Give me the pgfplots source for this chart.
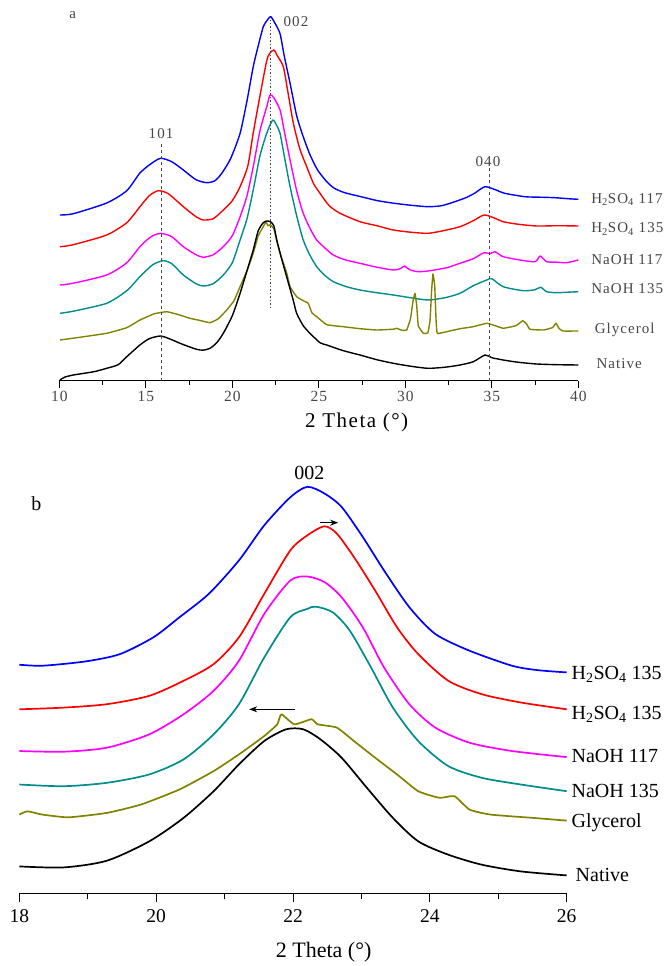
\documentclass[border=0pt]{standalone}
\usepackage{fontspec}
\setmainfont{Liberation Serif}
\newfontfamily\afont[LetterSpace=7]{Liberation Serif}
\usepackage{pgfplots}
\pgfplotsset{compat=1.18}
\usetikzlibrary{arrows.meta}
\definecolor{cblue}{RGB}{0,0,255}
\definecolor{cred}{RGB}{255,0,0}
\definecolor{cmag}{RGB}{255,0,255}
\definecolor{cteal}{RGB}{0,140,140}
\definecolor{colive}{RGB}{130,130,0}
\definecolor{agray}{RGB}{70,70,70}
\begin{document}
\begin{tikzpicture}
\path[use as bounding box] (0pt,0pt) rectangle (671pt,-966pt);
% ---------------- panel a ----------------
\begin{axis}[at={(59.3pt,-380.7pt)}, anchor=south west, scale only axis,
  width=519pt, height=370pt, xmin=10, xmax=40, ymin=0, ymax=370,
  axis x line*=bottom, axis y line=none, clip=false,
  xtick={10,15,...,40}, minor x tick num=1, tick align=outside,
  major tick length=7pt, minor tick length=4pt,
  axis line style={line width=0.8pt,black}, tick style={line width=0.8pt,black},
  /pgf/number format/assume math mode=true,
  xticklabel style={font=\afont\fontsize{15.5}{16}\selectfont, text=agray},
  xlabel={2 Theta (°)},
  xlabel style={font=\afont\fontsize{21}{22}\selectfont, at={(axis description cs:0.573,0)}, anchor=center, yshift=-42pt},
  every axis plot/.append style={line width=1.4pt, line join=round}]
\addplot[cblue, smooth, tension=0.4] coordinates {(10.04,165.7)(10.81,167)(12.74,177.7)(13.9,190)(14.66,207.7)(15.3,217)(15.86,222.4)(16.5,219)(17.17,210.7)(17.9,201)(18.52,198)(19.0,200)(19.39,207.4)(19.9,222)(20.45,247.4)(20.85,280)(21.21,314)(21.5,335)(21.79,354)(22.0,360)(22.22,364)(22.45,358)(22.76,347)(23.0,325)(23.34,297.4)(23.72,265)(24.1,244)(24.49,226)(24.93,210.7)(25.46,199)(25.9,192.4)(26.5,188)(27.44,184)(28.4,180)(29.37,177.4)(30.3,175.5)(31.31,174)(32.1,175)(32.86,179)(33.5,183)(34.0,187.4)(34.6,194)(35.2,191)(35.75,187.4)(36.91,184)(37.8,183.5)(38.65,183)(39.4,182)(40.0,181.4)};
\addplot[cred, smooth, tension=0.4] coordinates {(10.04,134)(10.81,136)(12.74,145.7)(13.9,158)(14.66,174)(15.2,185)(15.72,190)(16.3,187)(17.17,174)(17.9,164)(18.32,160.7)(18.9,162)(19.48,170.7)(20.0,180)(20.45,194)(20.9,215)(21.21,247.7)(21.6,285)(21.99,320)(22.18,327.7)(22.41,330.7)(22.6,325)(22.95,314)(23.2,290)(23.53,257.4)(23.9,232)(24.3,214)(24.7,197)(25.07,187.4)(25.6,175)(26.23,167.4)(27.38,159)(28.35,155)(29.31,150.7)(30.3,148.5)(31.31,147.4)(32.2,150)(33.16,154)(33.93,160)(34.55,165.7)(35.1,163)(35.66,159)(36.5,156.5)(37.6,154.7)(38.8,155)(40.0,154.7)};
\addplot[cmag, smooth, tension=0.4] coordinates {(10.04,95.7)(10.81,97.5)(12.74,105.7)(13.9,118)(14.66,134)(15.3,144)(15.86,147.4)(16.5,144)(17.17,134)(17.9,126)(18.32,123.4)(18.9,126)(19.48,134)(20.0,145)(20.45,164)(20.85,185)(21.21,214)(21.6,250)(21.99,274)(22.18,285.7)(22.4,283)(22.76,270.7)(23.0,250)(23.34,220.7)(23.72,190)(24.1,167.4)(24.5,152)(24.88,140.7)(25.4,132)(25.84,125.7)(26.5,121)(27.38,117.4)(28.35,113.5)(29.31,110.7)(29.7,112)(29.95,114.7)(30.25,111)(30.75,109)(31.43,110)(32.4,113)(33.16,117.4)(33.93,122)(34.55,128)(34.9,127)(35.18,129)(35.66,124)(36.63,120.7)(37.5,119)(37.8,124.7)(38.17,119)(38.8,118.5)(39.33,118)(40.0,120.7)};
\addplot[cteal, smooth, tension=0.4] coordinates {(10.04,67.4)(10.81,69.5)(12.74,77.4)(13.9,90)(14.66,104)(15.4,116)(16.01,120)(16.5,117)(17.17,105.7)(17.9,97)(18.32,94.7)(18.9,97)(19.48,105.7)(20.0,118)(20.45,140.7)(20.85,162)(21.21,190.7)(21.6,225)(21.99,247.4)(22.34,260.7)(22.57,255)(22.76,247.4)(23.0,225)(23.34,194)(23.72,165)(24.1,140.7)(24.5,125)(24.88,114)(25.3,106)(25.84,99)(26.6,94)(27.38,90.7)(28.35,88)(29.31,85.7)(30.3,83)(31.31,80.7)(32.3,83)(33.16,87.4)(33.93,95)(34.71,100.7)(35.0,102)(35.66,94)(36.82,90)(37.5,91)(37.83,93.4)(38.17,89)(38.75,88)(39.4,88.5)(40.0,89)};
\addplot[colive, smooth, tension=0.2] coordinates {(10.04,40.7)(10.81,42.5)(12.74,47.4)(13.9,53)(14.66,60.7)(15.5,67)(16.21,69)(16.9,66)(17.55,62.4)(18.2,60)(18.71,58)(19.2,62)(19.68,70.7)(20.1,80)(20.45,94)(20.85,110)(21.21,127.4)(21.5,145)(21.79,154)(21.95,159)(22.05,155)(22.2,156)(22.4,152)(22.57,140)(22.76,127.4)(23.14,108)(23.34,94)(23.72,84)(24.1,80)(24.39,77.4)(24.6,68)(24.88,64)(25.46,56)(26.42,54)(27.38,52)(28.35,50.7)(29.31,51.5)(29.5,52.4)(29.8,50.5)(30.08,50.7)(30.3,62)(30.45,80)(30.56,87.4)(30.66,75)(30.75,55)(31.04,47.4)(31.3,47.8)(31.43,60)(31.52,90)(31.6,106.7)(31.7,95)(31.78,60)(31.85,47.4)(32.39,49)(33.16,52)(33.93,54)(34.71,57.4)(35.2,55)(35.66,52.4)(36.4,55)(36.79,60)(37.0,57)(37.21,51.4)(37.98,50.7)(38.5,53)(38.71,57.4)(38.9,52)(39.13,49.7)(40.0,49.7)};
\addplot[black, smooth, tension=0.4] coordinates {(10.04,0.7)(10.3,3.5)(10.81,5.7)(12.0,9)(12.74,12.4)(13.4,16)(13.9,24)(14.66,35.7)(15.2,42)(15.86,44.7)(16.5,41)(16.98,37.4)(17.5,34)(17.94,31.4)(18.3,30.5)(18.71,32.4)(19.1,38)(19.48,47.4)(20.0,65)(20.45,87.4)(20.85,110)(21.21,130.7)(21.5,150)(21.79,158)(21.99,159.7)(22.2,159)(22.4,155)(22.57,140.7)(22.85,122)(23.14,104)(23.53,80)(23.72,67.4)(24.1,55)(24.49,47.4)(25.07,38)(25.46,35.7)(26.42,30)(27.38,25.7)(28.35,21)(29.31,17.4)(30.3,14.5)(31.31,12.4)(32.3,13.5)(33.16,15.7)(33.93,19)(34.61,25.7)(35.0,23)(35.66,20.7)(36.5,18.5)(37.6,16.7)(38.8,16)(40.0,15.7)};
% reference lines
\addplot[agray, line width=1pt, dash pattern=on 3pt off 3pt] coordinates {(15.88,0)(15.88,237.7)};
\addplot[agray, line width=1pt, dash pattern=on 1.5pt off 2pt] coordinates {(22.22,72.7)(22.22,360.7)};
\addplot[agray, line width=1pt, dash pattern=on 3pt off 3pt] coordinates {(34.85,0)(34.85,212.7)};
\begin{scope}[every node/.style={font=\afont\fontsize{15}{16}\selectfont, text=agray}]
\node at (axis cs:10.78,365.7) {a};
\node at (axis cs:15.88,246.7) {101};
\node at (axis cs:23.68,359) {002};
\node at (axis cs:34.78,218.7) {040};
\node[anchor=west] at (axis cs:40.55,181.4) {H\textsubscript{2}SO\textsubscript{4} 117};
\node[anchor=west] at (axis cs:40.55,151.7) {H\textsubscript{2}SO\textsubscript{4} 135};
\node[anchor=west] at (axis cs:40.55,121.4) {NaOH 117};
\node[anchor=west] at (axis cs:40.55,92.4) {NaOH 135};
\node[anchor=west] at (axis cs:40.75,50.7) {Glycerol};
\node[anchor=west] at (axis cs:40.85,17.4) {Native};
\end{scope}
\end{axis}
% ---------------- panel b ----------------
\begin{axis}[at={(19.3pt,-893.3pt)}, anchor=south west, scale only axis,
  width=547.4pt, height=420pt, xmin=18, xmax=26, ymin=0, ymax=420,
  axis x line*=bottom, axis y line=none, clip=false,
  xtick={18,20,...,26}, minor x tick num=1, tick align=outside,
  major tick length=9pt, minor tick length=6pt,
  axis line style={line width=1pt,black}, tick style={line width=1pt,black},
  /pgf/number format/assume math mode=true,
  xticklabel style={font=\fontsize{19.5}{20}\selectfont, yshift=-4pt},
  xlabel={2 Theta (°)},
  xlabel style={font=\fontsize{22}{23}\selectfont, at={(axis description cs:0.556,0)}, anchor=center, yshift=-59pt},
  every axis plot/.append style={line width=1.7pt, line join=round}]
\addplot[cblue, smooth, tension=0.45] coordinates {(18,228.6)(18.34,227.6)(18.97,231.9)(19.47,239.2)(19.96,256)(20.34,276)(20.77,299.5)(21.21,332.9)(21.58,368)(21.96,396)(22.21,406.5)(22.46,399.8)(22.71,386.4)(23.02,356.3)(23.33,322.9)(23.7,286.1)(24.08,259.3)(24.58,242.6)(25.2,227.6)(25.57,223.2)(26,220.9)};
\addplot[cred, smooth, tension=0.45] coordinates {(18,184)(18.65,185.7)(19.28,189.1)(19.9,197.5)(20.4,212.5)(20.84,229.2)(21.21,256)(21.58,299.5)(21.96,342.9)(22.21,358)(22.46,367)(22.64,359.7)(22.89,336.3)(23.2,302.8)(23.52,266)(23.83,239.2)(24.27,212.5)(24.76,199.1)(25.33,190.8)(26,184)};
\addplot[cmag, smooth, tension=0.45] coordinates {(18,142.3)(18.65,141.6)(19.28,145.6)(19.9,159)(20.4,179)(20.84,202.5)(21.21,232.6)(21.58,279.4)(21.96,312.8)(22.21,316.8)(22.46,311.2)(22.71,296.1)(23.02,266)(23.33,225.9)(23.7,189.1)(24.08,165.7)(24.58,150.6)(25.2,142.3)(26,136.2)};
\addplot[cteal, smooth, tension=0.45] coordinates {(18,108.8)(18.65,107.1)(19.28,110.5)(19.9,118.9)(20.4,133.9)(20.84,159)(21.21,189.1)(21.58,235.9)(21.96,276)(22.21,284.4)(22.33,286.7)(22.58,281)(22.83,262.7)(23.14,225.9)(23.46,185.7)(23.83,152.3)(24.27,127.2)(24.76,115.5)(25.33,108.8)(26,102.1)};
\addplot[colive, smooth, tension=0.3] coordinates {(18,78.7)(18.12,82)(18.34,78.7)(18.72,76)(19.28,80.4)(19.78,88.8)(20.34,103.8)(20.84,122.2)(21.21,138.9)(21.58,157.3)(21.77,169)(21.83,179)(22.02,169)(22.27,174.1)(22.36,169)(22.64,165.7)(22.89,152.3)(23.2,135.6)(23.52,118.9)(23.83,102.1)(24.14,95.5)(24.36,97.1)(24.58,83.7)(24.89,78.7)(25.51,75.4)(26,72.7)};
\addplot[black, smooth, tension=0.45] coordinates {(18,26.9)(18.65,25.9)(19.28,32.6)(19.9,52)(20.4,75.4)(20.84,102.1)(21.21,128.9)(21.58,152.3)(21.9,164)(22.15,164)(22.4,154)(22.71,135.6)(23.08,105.5)(23.46,75.4)(23.83,52)(24.27,38.6)(24.76,28.6)(25.33,21.9)(26,17.9)};
\draw[black, line width=1pt, -{Stealth[length=8pt,width=6pt]}] (axis cs:22.4,370.6) -- (axis cs:22.66,370.6);
\draw[black, line width=0.8pt, -{Stealth[length=8pt,width=6pt]}] (axis cs:22.03,184) -- (axis cs:21.36,184);
\begin{scope}[every node/.style={font=\fontsize{20}{21}\selectfont}]
\node at (axis cs:18.25,389.8) {b};
\node at (axis cs:22.24,419.9) {002};
\node[anchor=west] at (axis cs:26.02,219.3) {H\textsubscript{2}SO\textsubscript{4} 135};
\node[anchor=west] at (axis cs:26.02,179.3) {H\textsubscript{2}SO\textsubscript{4} 135};
\node[anchor=west] at (axis cs:26.02,137.3) {NaOH 117};
\node[anchor=west] at (axis cs:26.02,102.8) {NaOH 135};
\node[anchor=west] at (axis cs:26.02,71) {Glycerol};
\node[anchor=west] at (axis cs:26.08,18.5) {Native};
\end{scope}
\end{axis}
\end{tikzpicture}
\end{document}
